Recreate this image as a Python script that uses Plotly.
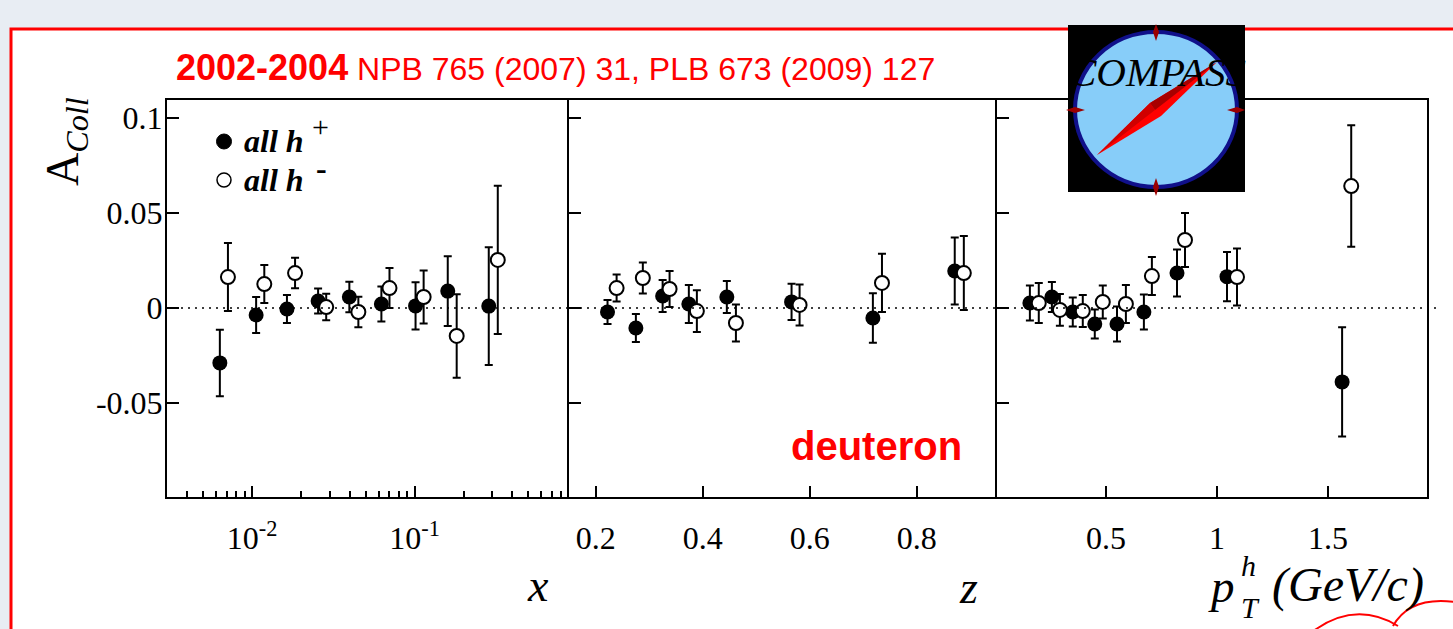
import plotly.graph_objects as go

# ---------------- data ----------------
x_pos = [0.00634, 0.0106, 0.0164, 0.0255, 0.0397, 0.0625, 0.1014, 0.160, 0.286]
a_x_pos = [-0.0289, -0.0037, -0.0005, 0.0037, 0.0058, 0.0021, 0.0011, 0.0089, 0.0010]
e_x_pos = [0.0175, 0.0095, 0.0074, 0.0066, 0.0080, 0.0092, 0.0124, 0.0184, 0.031]
x_neg = [0.00711, 0.0119, 0.0184, 0.0286, 0.0451, 0.0701, 0.1137, 0.1816, 0.325]
a_x_neg = [0.0163, 0.0126, 0.0184, 0.0005, -0.0021, 0.0105, 0.0058, -0.0147, 0.0253]
e_x_neg = [0.0179, 0.0100, 0.0080, 0.0070, 0.0080, 0.0105, 0.0140, 0.0220, 0.0390]

z_pos = [0.222, 0.275, 0.325, 0.374, 0.445, 0.566, 0.718, 0.871]
a_z_pos = [-0.0021, -0.0105, 0.0063, 0.0021, 0.0058, 0.0032, -0.0053, 0.0195]
e_z_pos = [0.0063, 0.0074, 0.0084, 0.0100, 0.0084, 0.0095, 0.0130, 0.0176]
z_neg = [0.239, 0.288, 0.338, 0.389, 0.462, 0.581, 0.735, 0.888]
a_z_neg = [0.0105, 0.0158, 0.0100, -0.0016, -0.0079, 0.0016, 0.0132, 0.0184]
e_z_neg = [0.0071, 0.0082, 0.0095, 0.0110, 0.0097, 0.0108, 0.0153, 0.0195]

pt_pos = [0.158, 0.257, 0.351, 0.450, 0.550, 0.671, 0.820, 1.045, 1.563]
a_pt_pos = [0.0026, 0.0058, -0.0021, -0.0084, -0.0084, -0.0021, 0.0184, 0.0165, -0.0389]
e_pt_pos = [0.0092, 0.0079, 0.0076, 0.0076, 0.0092, 0.0092, 0.0124, 0.0130, 0.0287]
pt_neg = [0.198, 0.293, 0.396, 0.486, 0.590, 0.707, 0.856, 1.090, 1.604]
a_pt_neg = [0.0026, -0.0010, -0.0016, 0.0032, 0.0021, 0.0168, 0.0358, 0.0163, 0.0642]
e_pt_neg = [0.0105, 0.0084, 0.0084, 0.0087, 0.0100, 0.0100, 0.0142, 0.0150, 0.0320]

y_ticks = [-0.05, 0, 0.05, 0.1]
y_ticktext = ["-0.05", "0", "0.05", "0.1"]
x_ticks = [0.01, 0.1]
x_ticktext = ["10<sup>-2</sup>", "10<sup>-1</sup>"]
z_ticks = [0.2, 0.4, 0.6, 0.8]
z_ticktext = ["0.2", "0.4", "0.6", "0.8"]
pt_ticks = [0.5, 1.0, 1.5]
pt_ticktext = ["0.5", "1", "1.5"]

# ---------------- layout helpers ----------------
W, H = 1453, 629
def PX(x): return x / W
def PY(y): return 1 - y / H

SERIF = "Liberation Serif, Times New Roman, serif"
SANS = "Liberation Sans, Arial, sans-serif"

fig = go.Figure()

panels = [
    (x_pos, a_x_pos, e_x_pos, x_neg, a_x_neg, e_x_neg, "x", "y"),
    (z_pos, a_z_pos, e_z_pos, z_neg, a_z_neg, e_z_neg, "x2", "y2"),
    (pt_pos, a_pt_pos, e_pt_pos, pt_neg, a_pt_neg, e_pt_neg, "x3", "y3"),
]
for xp, ap, ep, xn, an, en, xa, ya in panels:
    fig.add_trace(go.Scatter(
        x=xp, y=ap, mode="markers", xaxis=xa, yaxis=ya, showlegend=False,
        marker=dict(symbol="circle", size=15, color="black"),
        error_y=dict(type="data", array=ep, color="black", thickness=2, width=4)))
    fig.add_trace(go.Scatter(
        x=xn, y=an, mode="markers", xaxis=xa, yaxis=ya, showlegend=False,
        marker=dict(symbol="circle", size=14, color="white", line=dict(color="black", width=2)),
        error_y=dict(type="data", array=en, color="black", thickness=2, width=4)))

yr = [-0.0995, 0.1095]
ydom = [PY(497), PY(100)]
common_ax = dict(showline=True, linecolor="black", linewidth=2,
                 showgrid=False, zeroline=False, ticks="inside", tickcolor="black",
                 tickwidth=2, tickfont=dict(family=SERIF, size=32, color="black"))

minor_vals = [k * 10 ** e for e in (-3, -2, -1) for k in range(2, 10)]

fig.update_layout(
    width=W, height=H, autosize=False,
    margin=dict(l=0, r=0, t=0, b=0),
    paper_bgcolor="#e8edf3", plot_bgcolor="white",
    xaxis=dict(common_ax, mirror=True, type="log", domain=[PX(167), PX(569)], range=[-2.523, -0.05],
               tickvals=x_ticks, ticktext=x_ticktext, ticklen=11, anchor="y",
               ticklabelstandoff=12,
               minor=dict(tickvals=minor_vals, ticks="inside", ticklen=6, tickwidth=2, tickcolor="black")),
    xaxis2=dict(common_ax, mirror=True, domain=[PX(569), PX(997)], range=[0.15, 0.95],
                tickvals=z_ticks, ticktext=z_ticktext, ticklen=11, anchor="y2",
                ticklabelstandoff=12),
    xaxis3=dict(common_ax, mirror=True, domain=[PX(997), PX(1427)], range=[0.01, 1.945],
                tickvals=pt_ticks, ticktext=pt_ticktext, ticklen=11, anchor="y3",
                ticklabelstandoff=12),
    yaxis=dict(common_ax, mirror=False, domain=ydom, range=yr, tickvals=y_ticks, ticktext=y_ticktext,
               ticklen=12, anchor="x", ticklabelstandoff=-4),
    yaxis2=dict(common_ax, mirror=False, domain=ydom, range=yr, tickvals=y_ticks, showticklabels=False,
                ticklen=12, anchor="x2"),
    yaxis3=dict(common_ax, mirror=True, domain=ydom, range=yr, tickvals=y_ticks, showticklabels=False,
                ticklen=12, anchor="x3"),
)

shapes = []
# page frame
shapes.append(dict(type="rect", xref="paper", yref="paper", x0=PX(11), x1=PX(1470),
                   y0=PY(650), y1=PY(29), fillcolor="white",
                   line=dict(color="#ff0000", width=3), layer="below"))
# dotted zero line
shapes.append(dict(type="line", xref="paper", yref="y", x0=PX(167), x1=PX(1437), y0=0, y1=0,
                   line=dict(color="black", width=1.5, dash="2px,5px"), layer="above"))
# legend markers
shapes.append(dict(type="circle", xref="paper", yref="paper", x0=PX(216.5), x1=PX(231.5),
                   y0=PY(149), y1=PY(134), fillcolor="black", line=dict(color="black", width=1)))
shapes.append(dict(type="circle", xref="paper", yref="paper", x0=PX(217), x1=PX(231),
                   y0=PY(187), y1=PY(173), fillcolor="white", line=dict(color="black", width=1.5)))

# COMPASS logo
shapes.append(dict(type="rect", xref="paper", yref="paper", x0=PX(1068), x1=PX(1245),
                   y0=PY(192), y1=PY(25), fillcolor="black", line=dict(width=0), layer="above"))
shapes.append(dict(type="circle", xref="paper", yref="paper", x0=PX(1075), x1=PX(1237),
                   y0=PY(187), y1=PY(32), fillcolor="#87cdf9",
                   line=dict(color="#10108a", width=4), layer="above"))

def path(pts):
    s = "M " + " L ".join(f"{PX(x):.5f},{PY(y):.5f}" for x, y in pts) + " Z"
    return s

for pts in [
    [(1156, 24), (1159, 32), (1156, 41), (1153, 32)],
    [(1156, 178), (1159, 187), (1156, 196), (1153, 187)],
    [(1227, 110), (1237, 107), (1245, 110), (1237, 113)],
    [(1066, 110), (1075, 107), (1085, 110), (1075, 113)],
]:
    shapes.append(dict(type="path", xref="paper", yref="paper", path=path(pts),
                       fillcolor="#9b0000", line=dict(width=0), layer="above"))
# needle
shapes.append(dict(type="path", xref="paper", yref="paper",
                   path=path([(1097, 155), (1150, 103), (1217, 62), (1161, 116)]),
                   fillcolor="#ff0000", line=dict(width=0), layer="above"))
shapes.append(dict(type="path", xref="paper", yref="paper",
                   path=path([(1150, 103), (1217, 62), (1155, 110)]),
                   fillcolor="#a80000", line=dict(width=0), layer="above"))
shapes.append(dict(type="path", xref="paper", yref="paper",
                   path=path([(1097, 155), (1150, 103), (1155, 110)]),
                   fillcolor="#d00000", line=dict(width=0), layer="above"))

# red cloud outlines bottom right
shapes.append(dict(type="path", xref="paper", yref="paper",
                   path=f"M {PX(1312)},{PY(632)} Q {PX(1355)},{PY(600)} {PX(1398)},{PY(626)}",
                   line=dict(color="#ff0000", width=2)))
shapes.append(dict(type="path", xref="paper", yref="paper",
                   path=f"M {PX(1393)},{PY(626)} Q {PX(1410)},{PY(596)} {PX(1455)},{PY(602)}",
                   line=dict(color="#ff0000", width=2)))
fig.update_layout(shapes=shapes)

ann = []
def A(text, x, y, size, family=SERIF, color="black", xanchor="center", yanchor="middle", angle=0):
    ann.append(dict(text=text, x=PX(x), y=PY(y), xref="paper", yref="paper", showarrow=False,
                    xanchor=xanchor, yanchor=yanchor, textangle=angle,
                    font=dict(family=family, size=size, color=color)))

A('<span style="font-size:36px"><b>2002-2004</b></span> NPB 765 (2007) 31, PLB 673 (2009) 127',
  174, 67, 32, family=SANS, color="#ff0000", xanchor="left")
A("A<sub><i>Coll</i></sub>", 66, 142, 46, angle=-90)
A("<b><i>all h</i></b>", 242, 141, 32, xanchor="left")
A("+", 320, 127, 30)
A("<b><i>all h</i></b>", 242, 180, 32, xanchor="left")
A("<b>-</b>", 321, 168, 32)
A("<b>deuteron</b>", 876, 446, 40, family=SANS, color="#ff0000")
A("<i>x</i>", 538, 585, 46)
A("<i>z</i>", 968, 587, 46)
A("<i>p</i>", 1221, 586, 47)
A("<i>h</i>", 1248, 565, 30)
A("<i>T</i>", 1250, 607, 30)
A("<i>(GeV/c)</i>", 1348, 585, 48)
A("<i>COMPASS</i>", 1157, 72, 41, color="black")
fig.update_layout(annotations=ann)

fig.write_html("out.html")
